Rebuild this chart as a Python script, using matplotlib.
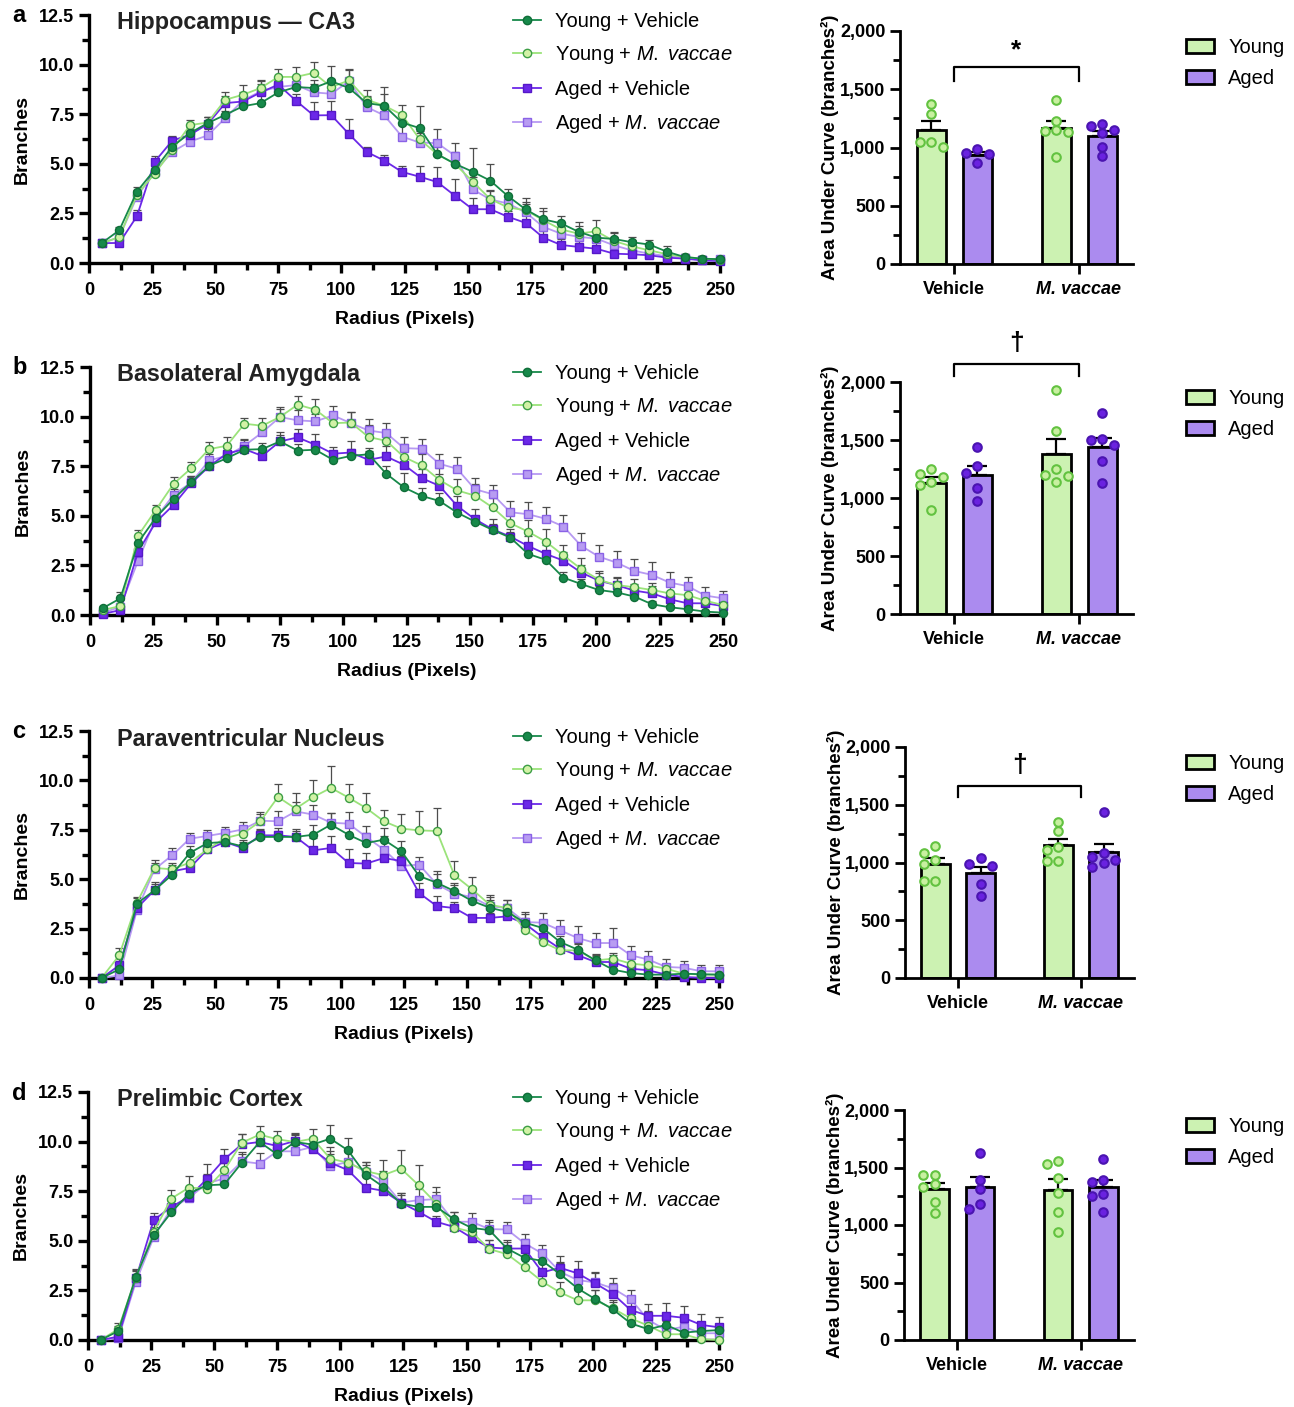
import numpy as np
import matplotlib
matplotlib.use("Agg")
import matplotlib.pyplot as plt
from matplotlib.patches import Patch
from matplotlib.lines import Line2D

plt.rcParams['font.family'] = ['Liberation Sans', 'DejaVu Sans']
plt.rcParams['mathtext.fontset'] = 'custom'
plt.rcParams['mathtext.rm'] = 'Liberation Sans'
plt.rcParams['mathtext.it'] = 'Liberation Sans:italic'
plt.rcParams['mathtext.bf'] = 'Liberation Sans:bold'

W, H = 1294, 1407

# ---------------- data ----------------
RADIUS = [5, 12, 19, 26, 33, 40, 47, 54, 61, 68, 75, 82, 89, 96, 103, 110, 117, 124,
          131, 138, 145, 152, 159, 166, 173, 180, 187, 194, 201, 208, 215, 222, 229,
          236, 243, 250]

REGIONS = ["Hippocampus \u2014 CA3", "Basolateral Amygdala", "Paraventricular Nucleus", "Prelimbic Cortex"]
LETTERS = ["a", "b", "c", "d"]
SERIES = ["YV", "YMV", "AV", "AMV"]
SERIES_LABELS = ["Young + Vehicle", r"Young + $\mathit{M.}$ $\mathit{vaccae}$",
                 "Aged + Vehicle", r"Aged + $\mathit{M.}$ $\mathit{vaccae}$"]

# Sholl curves (mean branches) per region
YV_a = [1.0, 1.65, 3.6, 4.7, 5.87, 6.55, 7.05, 7.47, 7.9, 8.06, 8.6, 8.87, 8.82, 9.16, 8.82, 8.06, 7.93, 7.08,
        6.8, 5.48, 5.0, 4.6, 4.15, 3.37, 2.7, 2.2, 2.0, 1.57, 1.28, 1.21, 1.05, 0.93, 0.57, 0.3, 0.22, 0.19]
YMV_a = [1.0, 1.3, 3.45, 4.5, 5.7, 6.95, 7.08, 8.23, 8.48, 8.82, 9.38, 9.38, 9.58, 8.87, 9.2, 8.23, 7.93, 7.47,
         6.24, 5.48, 5.0, 4.1, 3.22, 2.8, 2.66, 2.16, 1.69, 1.48, 1.6, 1.11, 0.84, 0.64, 0.44, 0.3, 0.22, 0.17]
AV_a = [1.0, 1.01, 2.36, 5.1, 6.17, 6.46, 7.0, 8.06, 8.14, 8.6, 8.99, 8.18, 7.44, 7.45, 6.5, 5.6, 5.16, 4.59,
        4.35, 4.08, 3.39, 2.71, 2.71, 2.33, 2.02, 1.28, 0.91, 0.81, 0.72, 0.47, 0.44, 0.39, 0.27, 0.22, 0.13, 0.1]
AMV_a = [1.0, 1.3, 3.34, 4.6, 5.6, 6.12, 6.43, 7.3, 8.2, 8.65, 8.87, 8.97, 8.6, 8.53, 9.16, 7.86, 7.44, 6.37,
         6.07, 6.04, 5.41, 3.71, 3.2, 3.0, 2.55, 1.82, 1.48, 1.32, 1.23, 0.89, 0.64, 0.47, 0.35, 0.27, 0.17, 0.2]

YV_b = [0.34, 0.84, 3.65, 4.91, 5.85, 6.7, 7.52, 7.9, 8.33, 8.36, 8.75, 8.29, 8.33, 7.82, 8.02, 8.1, 7.12, 6.43,
        6.0, 5.75, 5.16, 4.71, 4.29, 3.9, 3.08, 2.78, 1.88, 1.56, 1.26, 1.14, 0.93, 0.54, 0.39, 0.29, 0.17, 0.12]
YMV_b = [0.25, 0.45, 4.0, 5.3, 6.61, 7.4, 8.36, 8.53, 9.64, 9.54, 9.98, 10.6, 10.35, 9.67, 9.7, 8.97, 8.78, 7.96,
         7.54, 6.81, 6.28, 6.02, 5.42, 4.63, 4.2, 3.7, 3.0, 2.32, 1.77, 1.51, 1.4, 1.26, 1.09, 1.0, 0.72, 0.5]
AV_b = [0.05, 0.25, 3.2, 4.68, 5.55, 6.64, 7.49, 8.13, 8.36, 8.02, 8.75, 8.95, 8.58, 8.13, 8.19, 7.82, 7.99, 7.57,
        6.9, 6.51, 5.5, 4.83, 4.32, 3.95, 3.48, 3.08, 2.74, 2.14, 1.73, 1.5, 1.23, 1.09, 0.79, 0.59, 0.59, 0.45]
AMV_b = [0.1, 0.42, 2.74, 4.88, 6.06, 6.68, 7.79, 8.02, 8.53, 9.2, 9.98, 9.81, 9.76, 10.06, 9.67, 9.3, 9.17, 8.41,
         8.38, 7.62, 7.37, 6.34, 6.09, 5.18, 5.08, 4.85, 4.46, 3.48, 2.94, 2.64, 2.22, 2.02, 1.63, 1.46, 0.98, 0.84]

YV_c = [0.0, 0.44, 3.76, 4.44, 5.23, 6.33, 6.83, 6.88, 6.66, 7.14, 7.14, 7.14, 7.25, 7.76, 7.25, 6.83, 7.0, 6.41,
        5.16, 4.82, 4.4, 3.9, 3.56, 3.34, 2.8, 2.53, 1.82, 1.43, 0.89, 0.42, 0.25, 0.17, 0.17, 0.22, 0.19, 0.17]
YMV_c = [0.0, 1.15, 3.81, 5.57, 5.5, 5.84, 6.51, 7.08, 7.3, 7.93, 9.16, 8.57, 9.16, 9.62, 9.13, 8.6, 7.93, 7.56,
         7.47, 7.44, 5.2, 4.49, 3.71, 3.54, 2.45, 1.82, 1.4, 1.4, 0.89, 0.98, 0.73, 0.64, 0.47, 0.22, 0.17, 0.17]
AV_c = [0.0, 0.64, 3.54, 4.44, 5.4, 5.57, 6.51, 6.88, 6.58, 7.22, 7.22, 7.14, 6.46, 6.58, 5.82, 5.79, 6.07, 5.92,
        4.3, 3.64, 3.54, 3.04, 3.04, 3.12, 2.75, 2.07, 1.48, 1.15, 0.81, 0.81, 0.47, 0.39, 0.17, 0.05, 0.0, 0.0]
AMV_c = [0.0, 0.13, 3.42, 5.5, 6.21, 7.05, 7.19, 7.34, 7.52, 7.96, 7.93, 8.43, 8.27, 7.86, 7.81, 7.14, 6.5, 5.67,
         5.74, 4.74, 4.27, 4.1, 3.63, 3.54, 2.83, 2.8, 2.41, 2.02, 1.77, 1.77, 1.15, 0.93, 0.56, 0.52, 0.34, 0.34]

YV_d = [0.0, 0.45, 3.19, 5.29, 6.43, 7.38, 7.8, 7.84, 8.94, 9.98, 9.35, 9.98, 9.85, 10.15, 9.56, 8.34, 7.72, 6.88,
        6.71, 6.71, 6.09, 5.65, 5.54, 4.61, 4.14, 3.99, 3.32, 2.6, 2.06, 1.54, 0.84, 0.54, 0.76, 0.37, 0.45, 0.5]
YMV_d = [0.0, 0.55, 3.15, 5.45, 7.13, 7.68, 7.63, 8.56, 9.95, 10.35, 10.12, 9.98, 10.15, 9.14, 8.94, 8.51, 8.31,
         8.64, 7.8, 6.88, 5.67, 5.45, 4.58, 4.33, 3.66, 2.94, 2.4, 2.0, 2.0, 1.59, 1.09, 0.72, 0.29, 0.29, 0.03, 0.0]
AV_d = [0.0, 0.17, 3.1, 6.04, 6.71, 7.21, 8.1, 9.11, 9.87, 9.98, 9.78, 10.03, 9.61, 8.94, 8.56, 7.68, 7.52, 6.93,
        6.46, 5.96, 5.7, 5.15, 4.66, 4.61, 4.61, 3.41, 3.64, 3.36, 2.85, 2.32, 1.51, 1.22, 1.22, 1.12, 0.76, 0.64]
AMV_d = [0.0, 0.08, 2.94, 5.17, 6.63, 7.16, 7.89, 8.14, 9.0, 8.89, 9.51, 9.51, 9.73, 8.76, 8.98, 8.47, 8.0, 6.93,
         7.05, 7.1, 5.96, 5.96, 5.59, 5.57, 4.87, 4.36, 3.44, 3.02, 2.9, 2.6, 2.06, 1.01, 0.5, 0.67, 0.34, 0.34]

# SEM (upper error bars only)
YV_a_err = [0.05, 0.15, 0.25, 0.2, 0.3, 0.3, 0.3, 0.5, 0.45, 0.5, 0.3, 0.3, 0.4, 0.75, 0.4, 0.35, 0.95, 0.5,
            1.1, 0.4, 0.4, 1.2, 0.85, 0.35, 0.6, 0.55, 0.35, 0.5, 0.35, 0.35, 0.25, 0.25, 0.3, 0.15, 0.15, 0.1]
YMV_a_err = [0.05, 0.15, 0.25, 0.25, 0.3, 0.25, 0.3, 0.4, 0.5, 0.4, 0.4, 0.5, 0.55, 0.4, 0.55, 0.5, 0.6, 0.5,
             0.4, 0.5, 0.6, 0.45, 0.45, 0.3, 0.4, 0.45, 0.35, 0.4, 0.55, 0.4, 0.3, 0.3, 0.2, 0.15, 0.15, 0.1]
AV_a_err = [0.05, 0.1, 0.3, 0.3, 0.25, 0.3, 0.35, 0.35, 0.4, 0.4, 0.3, 0.35, 0.7, 0.7, 0.75, 0.25, 0.3, 0.3,
            0.55, 0.75, 0.85, 0.55, 0.4, 0.3, 0.4, 0.35, 0.3, 0.3, 0.35, 0.25, 0.2, 0.2, 0.15, 0.1, 0.1, 0.1]
AMV_a_err = [0.05, 0.15, 0.3, 0.3, 0.3, 0.3, 0.3, 0.35, 0.4, 0.5, 0.35, 0.35, 0.4, 0.6, 0.6, 0.5, 0.5, 0.6,
             0.5, 0.7, 0.65, 0.6, 0.45, 0.4, 0.4, 0.4, 0.35, 0.4, 0.35, 0.4, 0.3, 0.25, 0.2, 0.15, 0.15, 0.1]

YV_b_err = [0.1, 0.3, 0.3, 0.25, 0.25, 0.3, 0.3, 0.3, 0.3, 0.3, 0.3, 0.35, 0.3, 0.3, 0.35, 0.3, 0.4, 0.75,
            0.4, 0.4, 0.3, 0.3, 0.3, 0.3, 0.3, 0.3, 0.3, 0.25, 0.2, 0.2, 0.2, 0.15, 0.1, 0.1, 0.1, 0.1]
YMV_b_err = [0.1, 0.3, 0.3, 0.25, 0.35, 0.3, 0.35, 0.45, 0.3, 0.4, 0.5, 0.45, 0.55, 0.5, 0.55, 0.6, 0.55, 0.65,
             0.6, 0.6, 0.55, 0.6, 0.5, 0.55, 0.6, 0.65, 0.55, 0.55, 0.45, 0.4, 0.4, 0.35, 0.35, 0.3, 0.3, 0.2]
AV_b_err = [0.05, 0.2, 0.35, 0.25, 0.3, 0.3, 0.3, 0.3, 0.45, 0.35, 0.45, 0.45, 0.55, 0.35, 0.6, 0.45, 0.55, 0.75,
            0.45, 0.6, 0.5, 0.5, 0.5, 0.4, 0.5, 0.45, 0.45, 0.4, 0.4, 0.35, 0.35, 0.35, 0.3, 0.25, 0.25, 0.2]
AMV_b_err = [0.05, 0.2, 0.35, 0.3, 0.3, 0.35, 0.35, 0.3, 0.35, 0.35, 0.4, 0.5, 0.35, 0.45, 0.55, 0.6, 0.5, 0.55,
             0.5, 0.5, 0.6, 0.55, 0.45, 0.55, 0.6, 0.6, 0.6, 0.65, 0.6, 0.6, 0.6, 0.65, 0.55, 0.45, 0.45, 0.35]

YV_c_err = [0.0, 0.3, 0.3, 0.4, 0.3, 0.35, 0.3, 0.3, 0.3, 0.35, 0.3, 0.3, 0.5, 0.6, 0.7, 0.5, 0.6, 0.5,
            0.6, 0.6, 0.4, 0.45, 0.4, 0.4, 0.45, 0.3, 0.3, 0.3, 0.25, 0.2, 0.15, 0.1, 0.1, 0.1, 0.1, 0.1]
YMV_c_err = [0.0, 0.35, 0.3, 0.4, 0.3, 0.5, 0.35, 0.35, 0.4, 0.45, 0.65, 0.8, 0.85, 1.1, 0.7, 0.75, 0.55, 0.75,
             1.0, 1.15, 0.7, 0.6, 0.5, 0.4, 0.35, 0.4, 0.35, 0.35, 0.3, 0.3, 0.25, 0.25, 0.2, 0.15, 0.15, 0.1]
AV_c_err = [0.0, 0.3, 0.3, 0.3, 0.3, 0.3, 0.3, 0.3, 0.3, 0.3, 0.35, 0.4, 0.6, 0.6, 0.7, 0.55, 0.5, 0.45,
            0.5, 0.5, 0.3, 0.2, 0.25, 0.3, 0.3, 0.35, 0.3, 0.3, 0.3, 0.35, 0.3, 0.25, 0.15, 0.1, 0.1, 0.1]
AMV_c_err = [0.0, 0.2, 0.3, 0.3, 0.35, 0.3, 0.3, 0.3, 0.35, 0.35, 0.5, 0.5, 0.5, 0.5, 0.6, 0.55, 0.7, 0.5,
             0.4, 0.5, 0.45, 0.45, 0.45, 0.4, 0.5, 0.5, 0.55, 0.6, 0.5, 0.75, 0.45, 0.45, 0.4, 0.35, 0.3, 0.3]

YV_d_err = [0.0, 0.25, 0.4, 0.4, 0.3, 0.35, 0.4, 0.35, 0.45, 0.4, 0.35, 0.35, 0.4, 0.7, 0.6, 0.5, 0.45, 0.45,
            0.4, 0.35, 0.35, 0.35, 0.4, 0.35, 0.3, 0.5, 0.55, 0.5, 0.45, 0.4, 0.35, 0.35, 0.35, 0.3, 0.3, 0.3]
YMV_d_err = [0.0, 0.3, 0.4, 0.4, 0.45, 0.6, 0.6, 0.35, 0.45, 0.45, 0.4, 0.4, 0.5, 0.6, 0.6, 0.45, 0.75, 0.95,
             1.0, 0.6, 0.5, 0.45, 0.45, 0.4, 0.4, 0.45, 0.5, 0.5, 0.5, 0.45, 0.4, 0.35, 0.3, 0.2, 0.15, 0.1]
AV_d_err = [0.0, 0.2, 0.4, 0.35, 0.4, 0.4, 0.75, 0.5, 0.5, 0.4, 0.45, 0.4, 0.45, 0.6, 0.5, 0.55, 0.5, 0.5,
            0.45, 0.3, 0.4, 0.35, 0.4, 0.45, 0.5, 0.55, 0.6, 0.6, 0.6, 0.55, 0.6, 0.6, 0.65, 0.6, 0.55, 0.5]
AMV_d_err = [0.0, 0.2, 0.35, 0.35, 0.4, 0.45, 0.5, 0.5, 0.5, 0.55, 0.45, 0.45, 0.45, 0.6, 0.5, 0.5, 0.5, 0.5,
             0.55, 0.6, 0.5, 0.45, 0.45, 0.4, 0.45, 0.45, 0.5, 0.55, 0.5, 0.5, 0.45, 0.45, 0.45, 0.4, 0.4, 0.35]

# Area under curve, individual animals
AUC_YV_a = [1371, 1289, 1006, 1043, 1046]
AUC_AV_a = [986, 946, 957, 863]
AUC_YMV_a = [1411, 1231, 1149, 1134, 1143, 917]
AUC_AMV_a = [1154, 1183, 1200, 1126, 1006, 926]

AUC_YV_b = [1206, 1252, 1137, 1183, 1114, 895]
AUC_AV_b = [1436, 1275, 1214, 1088, 976]
AUC_YMV_b = [1934, 1580, 1249, 1194, 1186, 1140]
AUC_AMV_b = [1729, 1508, 1499, 1453, 1315, 1128]

AUC_YV_c = [1147, 1081, 986, 1023, 841, 841]
AUC_AV_c = [1038, 971, 986, 815, 714]
AUC_YMV_c = [1350, 1275, 1110, 1133, 1017, 1017]
AUC_AMV_c = [1436, 1046, 1084, 1023, 965, 994]

AUC_YV_d = [1434, 1434, 1332, 1353, 1202, 1107]
AUC_AV_d = [1624, 1390, 1309, 1136, 1182]
AUC_YMV_d = [1529, 1555, 1410, 1280, 1113, 936]
AUC_AMV_d = [1572, 1390, 1376, 1272, 1254, 1116]

SIG = ["*", "\u2020", "\u2020", None]
TREATMENTS = ["Vehicle", "M. vaccae"]

CURVES = [
    dict(YV=(YV_a, YV_a_err), YMV=(YMV_a, YMV_a_err), AV=(AV_a, AV_a_err), AMV=(AMV_a, AMV_a_err)),
    dict(YV=(YV_b, YV_b_err), YMV=(YMV_b, YMV_b_err), AV=(AV_b, AV_b_err), AMV=(AMV_b, AMV_b_err)),
    dict(YV=(YV_c, YV_c_err), YMV=(YMV_c, YMV_c_err), AV=(AV_c, AV_c_err), AMV=(AMV_c, AMV_c_err)),
    dict(YV=(YV_d, YV_d_err), YMV=(YMV_d, YMV_d_err), AV=(AV_d, AV_d_err), AMV=(AMV_d, AMV_d_err)),
]
AUCS = [
    dict(YV=AUC_YV_a, AV=AUC_AV_a, YMV=AUC_YMV_a, AMV=AUC_AMV_a),
    dict(YV=AUC_YV_b, AV=AUC_AV_b, YMV=AUC_YMV_b, AMV=AUC_AMV_b),
    dict(YV=AUC_YV_c, AV=AUC_AV_c, YMV=AUC_YMV_c, AMV=AUC_AMV_c),
    dict(YV=AUC_YV_d, AV=AUC_AV_d, YMV=AUC_YMV_d, AMV=AUC_AMV_d),
]

# ---------------- style / layout ----------------
STYLE = {
    "YV": dict(line="#17894a", marker="o", face="#17894a", edge="#0f6e38"),
    "YMV": dict(line="#9be37a", marker="o", face="#d2f2a6", edge="#3c9e45"),
    "AV": dict(line="#6b28e8", marker="s", face="#6b28e8", edge="#5518c8"),
    "AMV": dict(line="#b79af2", marker="s", face="#b89cf2", edge="#8a62e6"),
}
YOUNG_BAR, AGED_BAR = "#ccf2b2", "#ab8bef"
YOUNG_DOT = dict(fc="#c8f0a0", ec="#62c240")
AGED_DOT = dict(fc="#6a22e0", ec="#4a14b0")

# pixel boxes (left, top, right, bottom)
LINE_BOX = [(89, 15, 720, 263), (90, 367, 723, 615), (89, 731, 719, 978), (88, 1092, 719, 1340)]
BAR_BOX = [(900, 31, 1133, 264), (900, 382, 1133, 614), (905, 747, 1134, 978), (904, 1110, 1134, 1340)]
BRACKET = [(1571, 1691, 1837), (2052, 2155, 2336), (1569, 1665, 1847), None]

fig = plt.figure(figsize=(W / 100, H / 100), dpi=100)


def add_axes(box):
    l, t, r, b = box
    return fig.add_axes([l / W, 1 - b / H, (r - l) / W, (b - t) / H])


def style_axes(ax, lw=2.4):
    for s in ["top", "right"]:
        ax.spines[s].set_visible(False)
    for s in ["left", "bottom"]:
        ax.spines[s].set_linewidth(lw)
    ax.tick_params(which="major", length=7, width=lw, labelsize=13, direction="out")
    ax.tick_params(which="minor", length=5, width=lw, direction="out")


def swarm(vals, step=0.092, sx=125.0, sy=233 / 2000, dmin=8.5):
    # simple beeswarm, kept inside the bar
    vals = np.asarray(vals, float)
    offs = np.zeros(len(vals))
    placed = []
    for i in np.argsort(-vals):
        best, best_d = 0.0, -1.0
        for c in [0.0, -step, step]:
            d = min([np.hypot((c - o) * sx, (vals[i] - v) * sy) for o, v in placed] or [99.0])
            if d >= dmin:
                best = c
                break
            if d > best_d:
                best, best_d = c, d
        offs[i] = best
        placed.append((best, vals[i]))
    return offs


for row in range(4):
    # ---------- Sholl curves ----------
    ax = add_axes(LINE_BOX[row])
    style_axes(ax)
    for key in ["AMV", "AV", "YMV", "YV"]:
        st = STYLE[key]
        y, e = CURVES[row][key]
        e = np.asarray(e)
        ax.errorbar(RADIUS, y, yerr=[np.zeros_like(e), e], fmt="none", ecolor="#4d4d4d",
                    elinewidth=0.9, capsize=2.6, capthick=0.9, zorder=2, clip_on=False)
        ax.plot(RADIUS, y, color=st["line"], lw=1.3, marker=st["marker"], ms=5.8,
                mfc=st["face"], mec=st["edge"], mew=1.0, zorder=3, clip_on=False)
    ax.set_xlim(0, 250)
    ax.set_ylim(0, 12.5)
    ax.set_xticks(np.arange(0, 251, 25))
    ax.set_xticklabels([f"{v:d}" for v in range(0, 251, 25)], fontweight="bold")
    ax.set_xticks(np.arange(12.5, 250, 25), minor=True)
    ax.set_yticks(np.arange(0, 12.6, 2.5))
    ax.set_yticklabels([f"{v:.1f}" for v in np.arange(0, 12.6, 2.5)], fontweight="bold")
    ax.set_yticks(np.arange(1.25, 12.5, 2.5), minor=True)
    ax.tick_params(axis="x", which="major", pad=7)
    ax.set_xlabel("Radius (Pixels)", fontsize=14, fontweight="bold", labelpad=8)
    ax.set_ylabel("Branches", fontsize=14, fontweight="bold")
    ax.yaxis.set_label_coords(-0.092, 0.5)

    l, t, r, b = LINE_BOX[row]
    fig.text(117 / W, 1 - (t + 8) / H, REGIONS[row], fontsize=16.8, fontweight="bold",
             ha="left", va="center", color="#222222")
    fig.text(12 / W, 1 - (t + 1) / H, LETTERS[row], fontsize=17, fontweight="bold",
             ha="left", va="center")

    handles = [Line2D([], [], color=STYLE[k]["line"], lw=1.3, marker=STYLE[k]["marker"], ms=6,
                      mfc=STYLE[k]["face"], mec=STYLE[k]["edge"]) for k in SERIES]
    ax.legend(handles, SERIES_LABELS, loc="upper left",
              bbox_to_anchor=((513 - l) / (r - l), 1 + 3 / (b - t)), frameon=False,
              fontsize=14.5, handlelength=1.4, handletextpad=0.7, labelspacing=0.66,
              borderpad=0, borderaxespad=0)

    # ---------- AUC bars ----------
    bx = add_axes(BAR_BOX[row])
    style_axes(bx, lw=2.0)
    groups = [("YV", 0, -0.184, YOUNG_BAR, YOUNG_DOT), ("AV", 0, 0.184, AGED_BAR, AGED_DOT),
              ("YMV", 1, -0.184, YOUNG_BAR, YOUNG_DOT), ("AMV", 1, 0.184, AGED_BAR, AGED_DOT)]
    for key, g, off, col, dot in groups:
        vals = np.asarray(AUCS[row][key], float)
        m = vals.mean()
        sem = vals.std(ddof=1) / np.sqrt(len(vals))
        xc = g + off
        bx.bar(xc, m, width=0.232, color=col, edgecolor="black", linewidth=2.0, zorder=2)
        bx.errorbar(xc, m, yerr=[[0], [sem]], fmt="none", ecolor="black", elinewidth=1.6,
                    capsize=7, capthick=1.6, zorder=3)
        bx.scatter(xc + swarm(vals), vals, s=38, facecolor=dot["fc"], edgecolor=dot["ec"],
                   linewidth=1.5, zorder=4, clip_on=False)
    bx.set_xlim(-0.432, 1.432)
    bx.set_ylim(0, 2000)
    bx.set_yticks(np.arange(0, 2001, 500))
    bx.set_yticklabels([f"{int(v):,}" for v in np.arange(0, 2001, 500)], fontweight="bold")
    bx.set_yticks(np.arange(250, 2000, 500), minor=True)
    bx.set_xticks([0, 1])
    bx.set_xticklabels(TREATMENTS, fontweight="bold")
    bx.get_xticklabels()[1].set_fontstyle("italic")
    bx.tick_params(axis="x", labelsize=13, pad=5)
    bx.set_ylabel("Area Under Curve (branches\u00b2)", fontsize=13.5, fontweight="bold")
    bx.yaxis.set_label_coords(-0.26, 0.5)

    if BRACKET[row] is not None:
        leg, top, sy = BRACKET[row]
        bx.plot([0, 0, 1, 1], [leg, top, top, leg], color="black", lw=1.6, clip_on=False)
        bx.text(0.5, sy, SIG[row], ha="center", va="center", fontsize=19, fontweight="bold",
                clip_on=False)

    bl, bt, br, bb = BAR_BOX[row]
    bx.legend([Patch(facecolor=YOUNG_BAR, edgecolor="black", linewidth=2),
               Patch(facecolor=AGED_BAR, edgecolor="black", linewidth=2)],
              ["Young", "Aged"], loc="upper left",
              bbox_to_anchor=((1186 - bl) / (br - bl), 1 - 7 / (bb - bt)), frameon=False,
              fontsize=14.5, handlelength=1.4, handleheight=0.7, handletextpad=0.7,
              labelspacing=0.6, borderpad=0, borderaxespad=0)

fig.savefig("out.png", dpi=100)
